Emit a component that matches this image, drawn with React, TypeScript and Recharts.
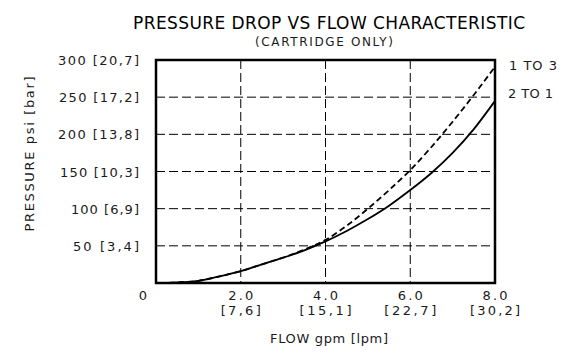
import { CartesianGrid, Customized, Line, LineChart, ReferenceArea, XAxis, YAxis } from 'recharts';

const flowTicks = [0, 2, 4, 6, 8];
const flowLpm = ['', '[7,6]', '[15,1]', '[22,7]', '[30,2]'];
const pressureTicks = [0, 50, 100, 150, 200, 250, 300];
const pressureBar = ['', '[3,4]', '[6,9]', '[10,3]', '[13,8]', '[17,2]', '[20,7]'];

// 1 TO 3 (dashed)
const flow1to3 = [0.3, 0.6, 1, 1.5, 2, 2.5, 3, 3.5, 4, 4.5, 5, 5.5, 6, 6.5, 7, 7.5, 8];
const psi1to3 = [0, 1, 3, 9, 16, 25, 34, 45, 58, 77, 100, 125, 152, 183, 217, 253, 291];

// 2 TO 1 (solid)
const flow2to1 = [0.3, 0.6, 1, 1.5, 2, 2.5, 3, 3.5, 4, 4.5, 5, 5.5, 6, 6.5, 7, 7.5, 8];
const psi2to1 = [0, 1, 3, 9, 16, 25, 34, 44, 56, 70, 86, 104, 125, 148, 175, 207, 245];

const data1to3 = flow1to3.map((flow, i) => ({ flow, psi: psi1to3[i] }));
const data2to1 = flow2to1.map((flow, i) => ({ flow, psi: psi2to1[i] }));

const FONT = '"DejaVu Sans", sans-serif';
const INK = '#1a1a1a';
const lpmWidth = [0, 40, 52, 52, 50];
const barWidth = [0, 66, 68, 79, 81, 80, 81];

function FlowTick(props: any) {
  const { x, y, payload } = props;
  const v = payload.value as number;
  const i = flowTicks.indexOf(v);
  if (v === 0) {
    return (
      <text x={x - 13} y={y + 17} textAnchor="middle" fontSize={13} fill={INK} fontFamily={FONT}>
        0
      </text>
    );
  }
  return (
    <g fontSize={13} fill={INK} fontFamily={FONT}>
      <text x={x} y={y + 17} textAnchor="middle" textLength={25} lengthAdjust="spacing">
        {v.toFixed(1)}
      </text>
      <text x={x} y={y + 32} textAnchor="middle" textLength={lpmWidth[i]} lengthAdjust="spacing">
        {flowLpm[i]}
      </text>
    </g>
  );
}

function PressureTick(props: any) {
  const { x, y, payload } = props;
  const v = payload.value as number;
  if (v === 0) return null;
  const i = pressureTicks.indexOf(v);
  return (
    <text
      x={x - 17}
      y={y + 5}
      textAnchor="end"
      fontSize={13}
      fill={INK}
      fontFamily={FONT}
      textLength={barWidth[i]}
      lengthAdjust="spacing"
    >
      {`${v} ${pressureBar[i]}`}
    </text>
  );
}

function Texts() {
  return (
    <g fontFamily={FONT} fill={INK}>
      <text x={329} y={29} textAnchor="middle" fontSize={17} fill="#000" textLength={392} lengthAdjust="spacing">
        PRESSURE DROP VS FLOW CHARACTERISTIC
      </text>
      <text x={324} y={46} textAnchor="middle" fontSize={12} textLength={138} lengthAdjust="spacing">
        (CARTRIDGE ONLY)
      </text>
      <text x={329} y={343} textAnchor="middle" fontSize={13} textLength={118} lengthAdjust="spacing">
        FLOW gpm [lpm]
      </text>
      <text
        x={34}
        y={154}
        transform="rotate(-90 34 154)"
        textAnchor="middle"
        fontSize={13}
        textLength={155}
        lengthAdjust="spacing"
      >
        PRESSURE psi [bar]
      </text>
      <text x={509} y={70} fontSize={13} textLength={48} lengthAdjust="spacing">
        1 TO 3
      </text>
      <text x={508} y={98} fontSize={13} textLength={45} lengthAdjust="spacing">
        2 TO 1
      </text>
    </g>
  );
}

export default function App() {
  return (
    <div style={{ position: 'absolute', left: 0, top: 0, background: '#fff' }}>
      <LineChart width={569} height={356} margin={{ top: 60, right: 74, bottom: 13, left: 16 }}>
        <CartesianGrid xAxisId="bottom" yAxisId="left" stroke="#000" strokeWidth={1} strokeDasharray="9 4" />
        <XAxis
          xAxisId="bottom"
          type="number"
          dataKey="flow"
          domain={[0, 8]}
          ticks={flowTicks}
          tickLine={false}
          tickSize={0}
          tickMargin={0}
          height={60}
          axisLine={false}
          tick={<FlowTick />}
          allowDataOverflow
        />
        <YAxis
          yAxisId="left"
          type="number"
          domain={[0, 300]}
          ticks={pressureTicks}
          tickLine={false}
          tickSize={0}
          tickMargin={0}
          width={140}
          axisLine={false}
          tick={<PressureTick />}
          allowDataOverflow
        />
        <ReferenceArea
          xAxisId="bottom"
          yAxisId="left"
          x1={0}
          x2={8}
          y1={0}
          y2={300}
          fill="none"
          fillOpacity={0}
          stroke="#000"
          strokeWidth={2.5}
          strokeOpacity={1}
          ifOverflow="visible"
        />
        <Line
          xAxisId="bottom"
          yAxisId="left"
          data={data1to3}
          dataKey="psi"
          type="monotone"
          stroke="#000"
          strokeWidth={1.8}
          strokeDasharray="6 3.5"
          dot={false}
          isAnimationActive={false}
        />
        <Line
          xAxisId="bottom"
          yAxisId="left"
          data={data2to1}
          dataKey="psi"
          type="monotone"
          stroke="#000"
          strokeWidth={1.8}
          dot={false}
          isAnimationActive={false}
        />
        <Customized component={<Texts />} />
      </LineChart>
    </div>
  );
}
